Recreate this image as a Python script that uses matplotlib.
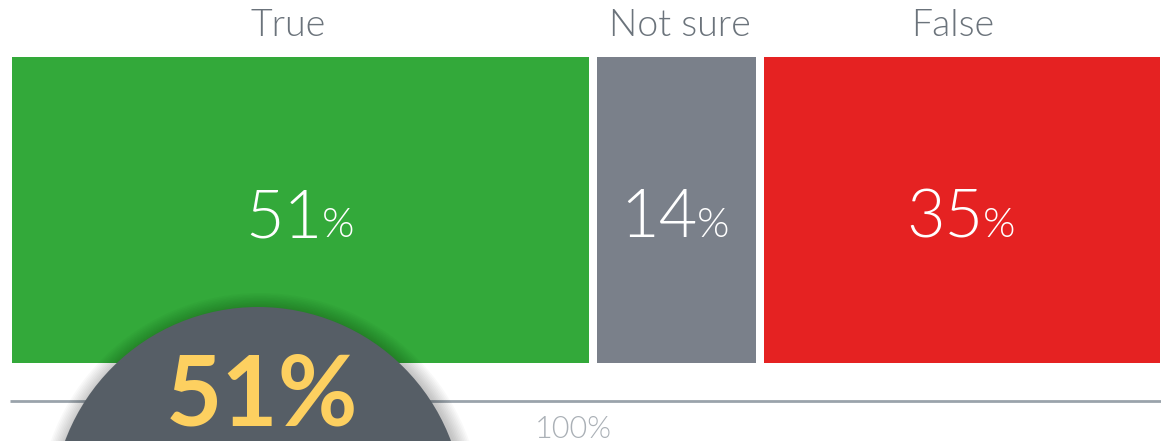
import matplotlib
matplotlib.use("Agg")
import matplotlib.pyplot as plt
from matplotlib.patches import Circle

categories = ["True", "Not sure", "False"]
values = [51, 14, 35]
colors = ["#33a93a", "#7a808a", "#e52222"]
highlight = "51%"
total_label = "100%"

W, H = 1161, 441
fig = plt.figure(figsize=(W / 100, H / 100), dpi=100)
fig.patch.set_facecolor("white")

FONT = "Lato"
LIGHT = 300
gap = 0.72  # gap between segments, in percent units
x0_px, x1_px = 12, 1160
ax = fig.add_axes([x0_px / W, 0, (x1_px - x0_px) / W, 1])
ax.set_xlim(0, 100 + gap * (len(values) - 1))
ax.set_ylim(H, 0)
ax.axis("off")

lefts = []
acc = 0
for i, v in enumerate(values):
    lefts.append(acc + i * gap)
    acc += v

title_shift = [-12, 3, -9]  # pixel offsets of titles
ax.barh([210], values, left=lefts, height=306, color=colors, zorder=1)
for left, v, cat, sh in zip(lefts, values, categories, title_shift):
    cx = left + v / 2
    ax.annotate(cat, (cx, 26), ha="center", va="center", fontsize=27,
                family=FONT, fontweight=LIGHT, color="#6b737b",
                xytext=(sh * 0.72, 0), textcoords="offset points")
    ax.annotate(f"{v}", (cx, 237), ha="right", va="baseline",
                fontsize=48, family=FONT, fontweight=LIGHT, color="white",
                xytext=(15.5, 0), textcoords="offset points")
    ax.annotate("%", (cx, 237), ha="left", va="baseline",
                fontsize=30, family=FONT, fontweight=LIGHT, color="white",
                xytext=(15, 0), textcoords="offset points")

# overlay in pixel coordinates
ov = fig.add_axes([0, 0, 1, 1])
ov.set_xlim(0, W)
ov.set_ylim(H, 0)
ov.axis("off")

ov.plot([10, W], [401, 401], color="#9aa3ab", lw=2, solid_capstyle="butt", zorder=2)
ov.text(573, 429, total_label, ha="center", va="center", fontsize=22,
        family=FONT, fontweight=LIGHT, color="#aab0b6", zorder=2)

cx, cy, r = 258, 513, 206
for k in range(10, 0, -1):
    ov.add_patch(Circle((cx + 2, cy + 2), r + k * 1.6, color="black",
                        alpha=0.025, lw=0, zorder=3))
ov.add_patch(Circle((cx, cy), r, color="#565e66", lw=0, zorder=4))
ov.text(262, 397, highlight, ha="center", va="center", fontsize=70,
        family=FONT, fontweight="bold", color="#fdd060", zorder=5)

fig.savefig("out.png", dpi=100, facecolor="white")
